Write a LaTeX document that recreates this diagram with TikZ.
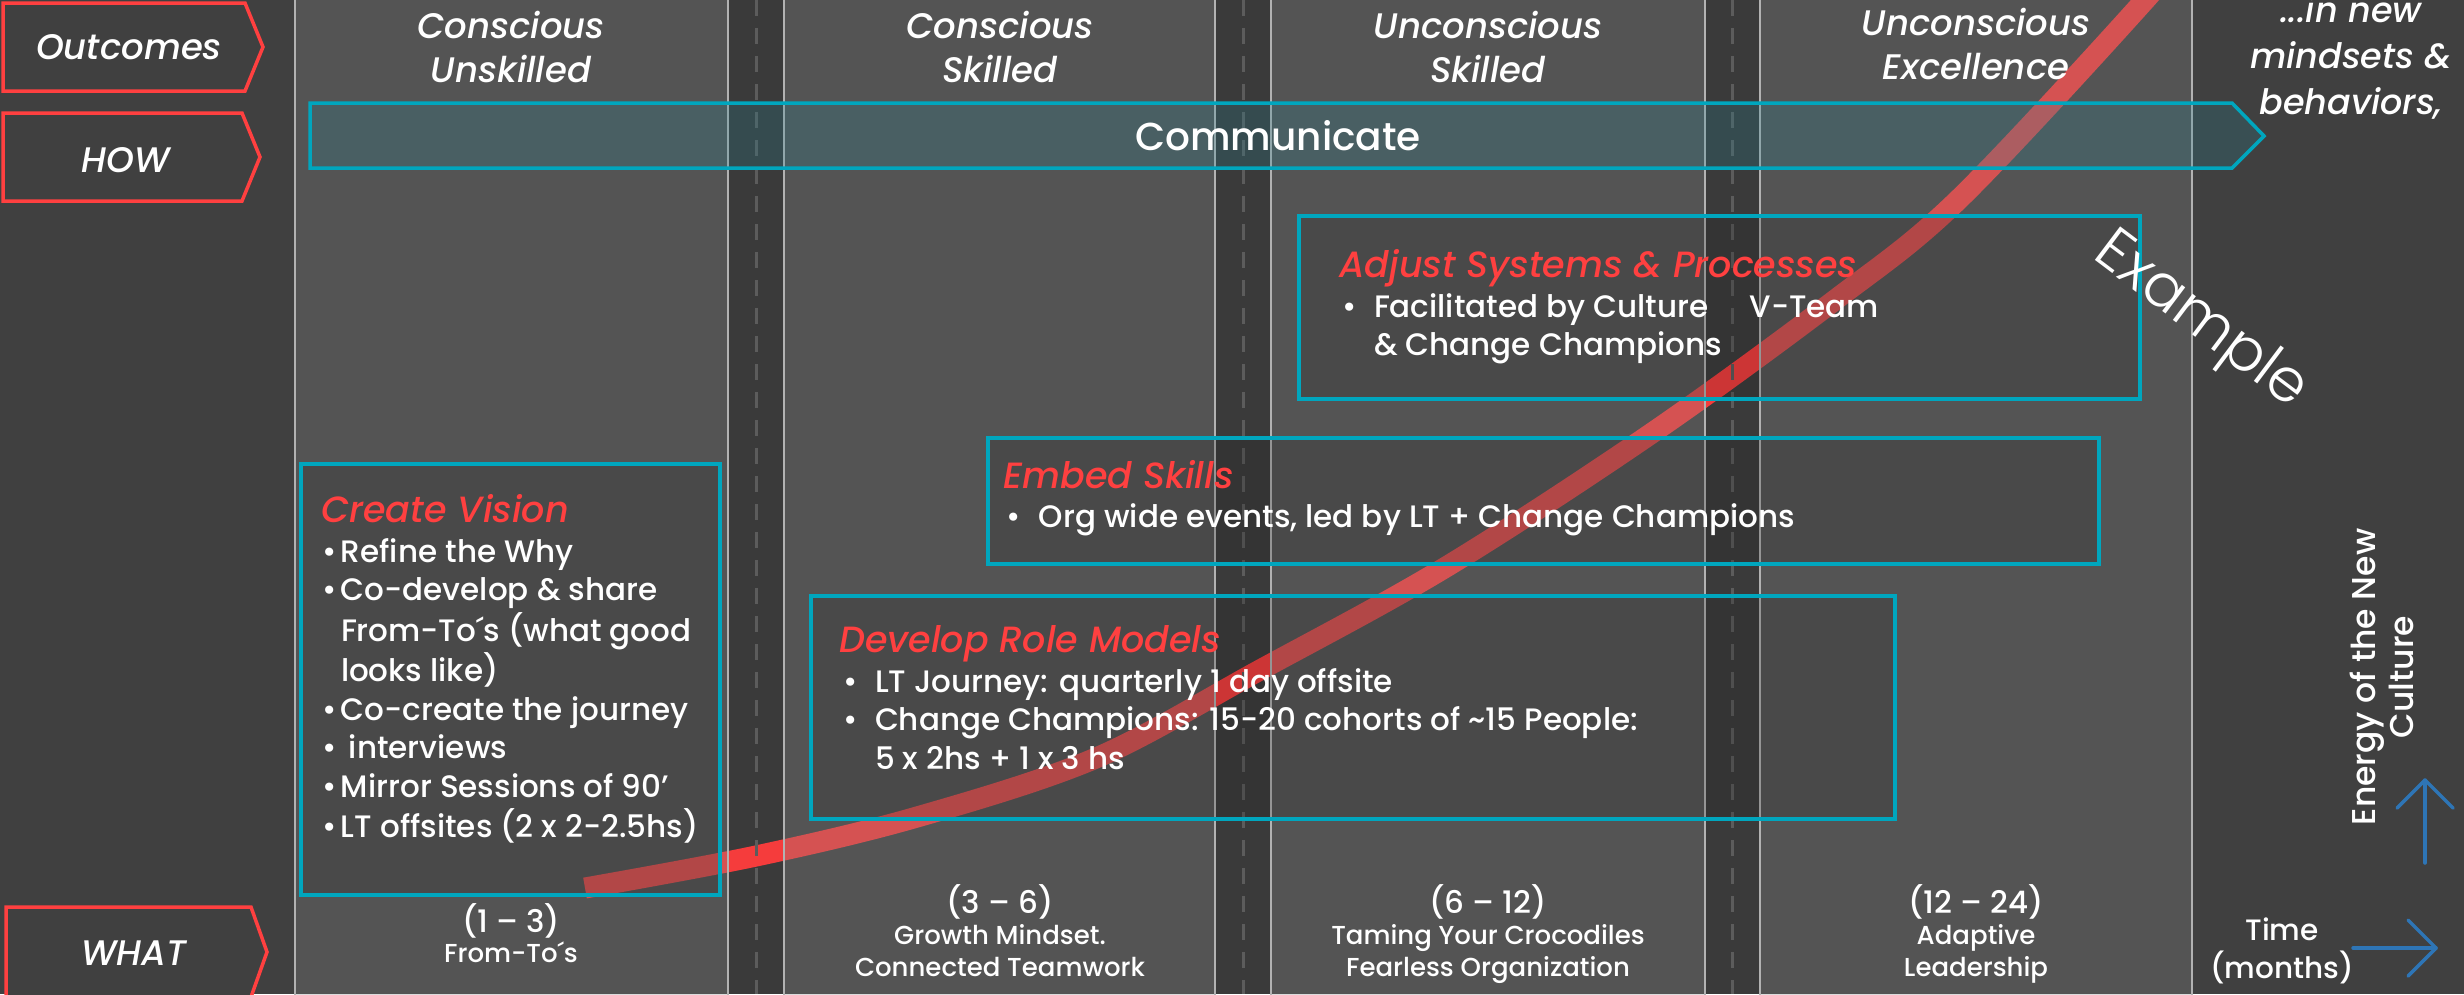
\documentclass[tikz,border=0pt]{standalone}
\usepackage{fontspec}
\setmainfont{Poppins}[UprightFont={Poppins Medium}, ItalicFont={Poppins Medium Italic}]
\newfontfamily\lightfont{Poppins Light}
\definecolor{bgc}{RGB}{64,64,64}
\definecolor{stripc}{RGB}{58,58,58}
\definecolor{colc}{RGB}{136,136,136}
\definecolor{colline}{RGB}{178,178,178}
\definecolor{dashc}{RGB}{92,92,92}
\definecolor{curvec}{RGB}{245,60,60}
\definecolor{boxfill}{RGB}{28,28,28}
\definecolor{tealc}{RGB}{0,166,190}
\definecolor{commfill}{RGB}{38,132,150}
\definecolor{redc}{RGB}{255,64,64}
\definecolor{bluec}{RGB}{46,117,182}
\newcommand\myfs[2]{\fontsize{#1}{#2}\selectfont}
\newcommand\mytab[2][c]{\begin{tabular}[t]{@{}#1@{}}#2\end{tabular}}
\newcommand\bb[1]{\makebox[#1pt][l]{•}}
\begin{document}
\begin{tikzpicture}[x=1pt,y=-1pt,
  txt/.style={text=white, inner sep=0pt, outer sep=0pt},
  colband/.style={fill=colc, fill opacity=0.29, draw=colline, line width=1.5pt},
  stripdash/.style={draw=dashc, line width=3pt, dash pattern=on 16pt off 12pt},
  actbox/.style={draw=tealc, line width=3.5pt, fill=boxfill, fill opacity=0.19, inner sep=0pt, anchor=north west},
  commbox/.style={draw=tealc, line width=3.5pt, fill=commfill, fill opacity=0.23},
  chev/.style={draw=redc, line width=3.5pt, fill=bgc},
  curve/.style={draw=curvec, line width=21pt},
  titletxt/.style={text=redc, inner sep=0pt, anchor=base west, font=\myfs{36.5}{42}\itshape},
  bultxt/.style={txt, anchor=base west, font=\myfs{31}{38.5}},
  headtxt/.style={txt, anchor=base, font=\myfs{35.5}{44}\itshape},
  numtxt/.style={txt, anchor=base, font=\myfs{31}{36}},
  desctxt/.style={txt, anchor=base, font=\myfs{26}{32}},
  labtxt/.style={txt, anchor=base, font=\myfs{35.5}{42}\itshape},
  bluearrow/.style={draw=bluec, line width=3.5pt, line cap=round, line join=round}
]
% background
\fill[bgc] (0,0) rectangle (2464,994);
\useasboundingbox (0,0) rectangle (2464,994);
% strips between columns
\fill[stripc] (728,0) rectangle (784,994);
\fill[stripc] (1215,0) rectangle (1271,994);
\fill[stripc] (1705,0) rectangle (1760,994);
% energy curve (under the columns)
\draw[curve] plot[smooth, tension=0.55] coordinates {(585,888) (756,856) (917,817) (1096,758) (1260,670) (1446,567) (1652,433) (1835,300) (1958,200) (2145,0) (2178,-45)};
% columns
\path[colband] (295,-5) rectangle (728,1000);
\path[colband] (784,-5) rectangle (1215,1000);
\path[colband] (1271,-5) rectangle (1705,1000);
\path[colband] (1760,-5) rectangle (2192,1000);
% dashed lines
\draw[stripdash] (756,0) -- (756,994);
\draw[stripdash] (1243,0) -- (1243,994);
\draw[stripdash] (1732,0) -- (1732,994);
% activity boxes
\node[actbox, minimum width=419pt, minimum height=431pt] (cvbox) at (299,462) {};
\node[actbox, minimum width=1111pt, minimum height=126pt] (esbox) at (986,436) {};
\node[actbox, minimum width=1084pt, minimum height=223pt] (drmbox) at (809,594) {};
\node[actbox, minimum width=841pt, minimum height=183pt] (aspbox) at (1297,214) {};
% communicate arrow
\path[commbox] (310,103) -- (2232,103) -- (2264,136) -- (2232,168) -- (310,168) -- cycle;
\node[txt, anchor=base, font=\myfs{39}{48}] (comm) at (1278,150) {Communicate};
% left chevrons
\path[chev] (3,3) -- (245,3) -- (263,47) -- (245,91) -- (3,91) -- cycle;
\path[chev] (3,113) -- (242,113) -- (260,157) -- (242,201) -- (3,201) -- cycle;
\path[chev] (6,907) -- (251,907) -- (267,952) -- (251,997) -- (6,997) -- cycle;
\node[labtxt] (lo) at (129,59) {Outcomes};
\node[labtxt] (lh) at (126,172) {HOW};
\node[labtxt] (lw) at (134,965) {WHAT};
% column headings
\node[headtxt] (h1) at (511,38) {\mytab{Conscious\\Unskilled}};
\node[headtxt] (h2) at (1000,38) {\mytab{Conscious\\Skilled}};
\node[headtxt] (h3) at (1488,38) {\mytab{Unconscious\\Skilled}};
\node[headtxt] (h4) at (1976,35) {\mytab{Unconscious\\Excellence}};
\node[txt, anchor=base, font=\myfs{35}{46}\itshape] (rt) at (2351,22) {\mytab{...in new\\mindsets \&\\behaviors,}};
% box titles and bullets
\node[titletxt] (cvtitle) at (321,522) {Create Vision};
\node[bultxt] (cvlist) at (322,562) {\mytab[l]{\bb{19}Refine the Why\\ \bb{19}Co-develop \& share\\ \hspace*{19pt}From-To´s (what good\\ \hspace*{19pt}looks like)\\ \bb{19}Co-create the journey\\ \bb{19}\hspace{8pt}interviews\\ \bb{19}Mirror Sessions of 90’\\ \bb{19}LT offsites (2 x 2-2.5hs)}};
\node[titletxt] (estitle) at (1003,488) {Embed Skills};
\node[bultxt] (eslist) at (1006,527) {\bb{33}Org wide events, led by LT + Change Champions};
\node[titletxt] (drmtitle) at (839,652) {Develop Role Models};
\node[bultxt] (drmlist) at (843,692) {\mytab[l]{\bb{32}LT Journey: quarterly 1 day offsite\\ \bb{32}Change Champions: 15-20 cohorts of \textasciitilde15 People:\\ \hspace*{32pt}5 x 2hs + 1 x 3 hs}};
\node[titletxt] (asptitle) at (1339,277) {Adjust Systems \& Processes};
\node[bultxt] (asplist) at (1342,317) {\mytab[l]{\bb{32}Facilitated by Culture\hspace{33pt} V-Team\\ \hspace*{32pt}\& Change Champions}};
% example
\node[txt, rotate=-37, font=\lightfont\myfs{60}{70}] (ex) at (2200,322) {Example};
% bottom texts
\node[numtxt] (n1) at (511,932) {(1 – 3)};
\node[desctxt] (d1) at (511,962) {From-To´s};
\node[numtxt] (n2) at (1000,913) {(3 – 6)};
\node[desctxt] (d2) at (1000,944) {\mytab{Growth Mindset.\\Connected Teamwork}};
\node[numtxt] (n3) at (1488,913) {(6 – 12)};
\node[desctxt] (d3) at (1488,944) {\mytab{Taming Your Crocodiles\\Fearless Organization}};
\node[numtxt] (n4) at (1976,913) {(12 – 24)};
\node[desctxt] (d4) at (1976,944) {\mytab{Adaptive\\Leadership}};
% axes
\node[txt, anchor=base, font=\myfs{29.5}{38}] (time) at (2282,940) {\mytab{Time\\(months)}};
\node[txt, anchor=base, rotate=90, font=\myfs{33}{38}] (en) at (2375,677) {\mytab{Energy of the New\\Culture}};
\coordinate (upA) at (2425,863);
\coordinate (upB) at (2425,780);
\coordinate (upL) at (2397,808);
\coordinate (upR) at (2453,808);
\draw[bluearrow] (upA) -- (upB);
\draw[bluearrow] (upL) -- (upB) -- (upR);
\coordinate (tA) at (2353,948);
\coordinate (tB) at (2436,948);
\coordinate (tU) at (2408,920);
\coordinate (tD) at (2408,976);
\draw[bluearrow] (tA) -- (tB);
\draw[bluearrow] (tU) -- (tB) -- (tD);
\end{tikzpicture}
\end{document}
